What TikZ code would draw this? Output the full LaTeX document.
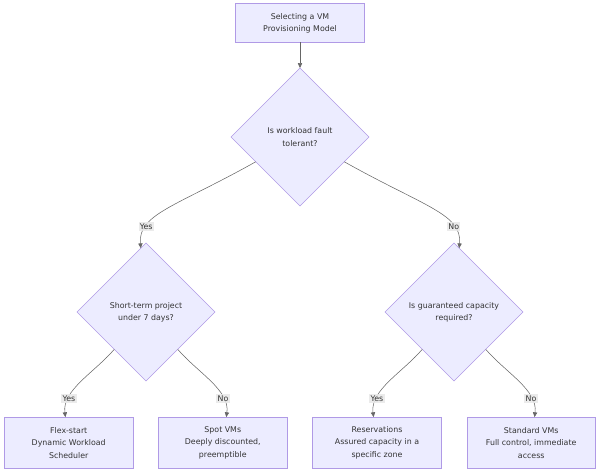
\documentclass[tikz,border=0pt]{standalone}
\usepackage{fontspec}
\setmainfont{DejaVu Sans}
\usetikzlibrary{shapes.geometric, arrows.meta, positioning}
\definecolor{nodefill}{HTML}{ECECFF}
\definecolor{nodeline}{HTML}{B09AE6}
\definecolor{inkgray}{HTML}{333333}
\definecolor{edgegray}{HTML}{666666}
\definecolor{labelfill}{HTML}{E8E8E8}

\begin{document}
\begin{tikzpicture}[
    x=0.75pt, y=-0.75pt,
    every node/.style={align=center, text=inkgray, font=\fontsize{5.9}{9.2}\selectfont},
    process/.style={rectangle, draw=nodeline, fill=nodefill, line width=0.5pt, inner sep=0pt, outer sep=0pt, minimum width=96.5pt},
    question/.style={diamond, aspect=1, draw=nodeline, fill=nodefill, line width=0.5pt, inner sep=0pt, outer sep=0pt, minimum width=103.5pt, minimum height=103.5pt},
    flow/.style={draw=edgegray, line width=0.4pt, -{Triangle[length=3.6pt, width=3.2pt]}},
    edge text/.style={fill=labelfill, fill opacity=0.85, text opacity=1, inner sep=1pt}
]
\useasboundingbox (0,0) rectangle (600,474);

% Nodes
\node[process, minimum height=29pt] (start) at (300,23) {Selecting a VM\\Provisioning Model};

\node[question] (fault) at (300,137) {Is workload fault\\tolerant?};
\node[question] (shortterm) at (146,312) {Short-term project\\under 7 days?};
\node[question] (capacity) at (454,312) {Is guaranteed capacity\\required?};

\node[process, minimum height=38.5pt] (flex) at (68.7,442.8) {Flex-start\\Dynamic Workload\\Scheduler};
\node[process, minimum height=38.5pt] (spot) at (222.8,442.8) {Spot VMs\\Deeply discounted,\\preemptible};
\node[process, minimum height=38.5pt] (reserve) at (377,442.8) {Reservations\\Assured capacity in a\\specific zone};
\node[process, minimum height=38.5pt] (standard) at (531.2,442.8) {Standard VMs\\Full control, immediate\\access};

% Edges
\draw[flow] (start) -- (fault);

\draw[flow] (fault) .. controls (175,207) and (138,214) .. node[edge text, pos=0.75] (yesfault) {Yes} (shortterm);
\draw[flow] (fault) .. controls (425,207) and (462,214) .. node[edge text, pos=0.75] (nofault) {No} (capacity);

\draw[flow] (shortterm) .. controls (95,372) and (62,390) .. node[edge text, pos=0.75] (yesshort) {Yes} (flex);
\draw[flow] (shortterm) .. controls (197,372) and (230,390) .. node[edge text, pos=0.75] (noshort) {No} (spot);

\draw[flow] (capacity) .. controls (403,372) and (370,390) .. node[edge text, pos=0.75] (yescap) {Yes} (reserve);
\draw[flow] (capacity) .. controls (505,372) and (538,390) .. node[edge text, pos=0.75] (nocap) {No} (standard);

\end{tikzpicture}
\end{document}
